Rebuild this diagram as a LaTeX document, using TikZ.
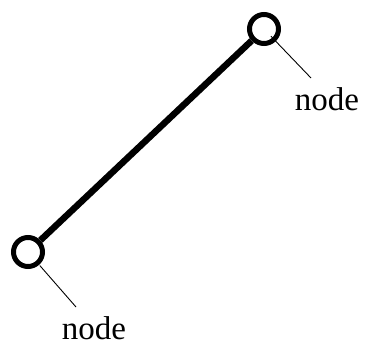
\documentclass[tikz,border=0pt]{standalone}
\usepackage{fontspec}
\setmainfont{Liberation Serif}
\begin{document}
\begin{tikzpicture}[x=1pt,y=-1pt,
  ring/.style={circle,draw,line width=5pt,minimum size=29pt,inner sep=0pt,fill=white},
  lbl/.style={font=\fontsize{33}{36}\selectfont,inner sep=0pt},
  pinline/.style={line width=0.9pt},
  edgeline/.style={line width=6.5pt}]
\useasboundingbox (0,0) rectangle (365,345);
\node[ring] (a) at (28,252) {};
\node[ring] (b) at (264,29) {};
\draw[edgeline] (a) -- (b);
\node[lbl] (la) at (94,328) {node};
\node[lbl] (lb) at (327,99) {node};
\coordinate (pa) at (76,307);
\coordinate (pb) at (311,78);
\draw[pinline,shorten <=18pt] (a.center) -- (pa);
\draw[pinline,shorten <=10pt] (b.center) -- (pb);
\end{tikzpicture}
\end{document}
